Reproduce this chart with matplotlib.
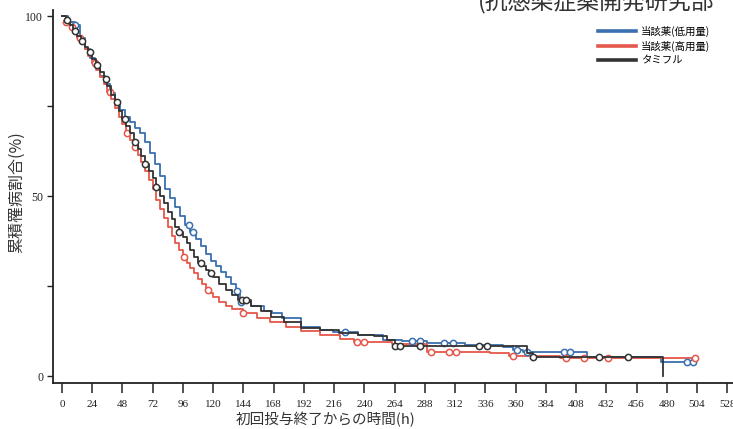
import numpy as np
import matplotlib
matplotlib.use("Agg")
import matplotlib.pyplot as plt

plt.rcParams['font.family'] = ['Noto Sans CJK JP', 'DejaVu Sans']

# ---- data ----
labels = ["当該薬(低用量)", "当該薬(高用量)", "タミフル"]
colors = ["#3a6fb0", "#e5574a", "#333333"]

blue_t = [0, 5, 10, 14, 18, 22, 26, 30, 34, 38, 42, 46, 50, 54, 58, 62, 66, 70, 74, 78,
          82, 86, 90, 94, 98, 102, 106, 110, 114, 118, 122, 126, 130, 134, 138, 141, 150, 160, 167, 175,
          190, 205, 215, 235, 255, 270, 290, 320, 350, 358, 366, 417, 475, 503]
blue_p = [100, 98.5, 97.5, 94, 91, 88.5, 86, 83.5, 81, 78.5, 76, 74, 72, 70.5, 69, 67.5, 65, 62, 59, 55.5,
          52, 49.5, 47, 44.5, 42, 40, 38, 36, 34, 32, 30.5, 29, 27.5, 25.5, 23.5, 20.5, 19.5, 18, 17.5, 16,
          13.5, 12.8, 12.2, 11.5, 10, 9.6, 9.2, 8.6, 8.1, 7.2, 6.7, 5.3, 3.8, 3.8]
blue_cens = [10, 101, 104, 139, 142, 225, 278, 284, 303, 310, 361, 369, 398, 403, 496, 501]

red_t = [0, 3, 6, 9, 12, 15, 18, 21, 24, 27, 30, 33, 36, 39, 42, 45, 48, 51, 54, 57,
         60, 63, 66, 69, 72, 75, 78, 81, 84, 87, 90, 93, 96, 99, 102, 105, 108, 111, 114, 117,
         120, 125, 130, 135, 144, 155, 165, 178, 190, 205, 221, 232, 262, 290, 340, 355, 395, 503]
red_p = [100, 98.5, 97, 95.5, 94, 92.5, 91, 89, 87, 85, 83, 81, 79, 77, 74.5, 72, 70, 67.5, 65.5, 63.5,
         61.5, 59.5, 57, 54.5, 52, 49, 46.5, 44, 41.5, 39, 37, 35, 33, 31.5, 30, 28.5, 27, 25.5, 24, 23,
         22, 20.5, 19.5, 18.5, 17.5, 16, 15, 13.5, 12.5, 11.5, 10.3, 9.5, 9.0, 6.8, 6.4, 5.6, 4.9, 4.9]
red_cens = [3, 8, 14, 26, 38, 52, 58, 97, 116, 144, 234, 240, 293, 307, 313, 358, 400, 414, 433, 502]

black_t = [0, 3, 6, 9, 12, 15, 18, 21, 24, 27, 30, 33, 36, 39, 42, 45, 48, 51, 54, 57,
           60, 63, 66, 69, 72, 75, 78, 81, 84, 87, 90, 93, 96, 99, 102, 105, 108, 111, 114, 117,
           120, 125, 130, 135, 140, 150, 158, 166, 176, 190, 205, 220, 235, 248, 258, 264, 369, 374, 477]
black_p = [100, 99, 97.5, 96, 94.5, 93, 91.5, 90, 88, 86.5, 84.5, 82.5, 80.5, 78, 76, 73.5, 71.5, 69.5, 67.5, 65,
           63, 61, 59, 57, 55, 52.5, 50, 48, 45.5, 43.5, 41.5, 40, 38.5, 37, 35, 33, 31.5, 30.5, 29.5, 28.5,
           27.5, 25.5, 24, 22.5, 21, 19.5, 18, 16.5, 15, 13.3, 12.8, 12, 11.5, 11, 10, 8.4, 6.5, 5.3, 0]
black_cens = [4, 10, 16, 22, 28, 35, 44, 50, 58, 66, 75, 93, 110, 118, 143, 146, 264, 268, 284,
              331, 337, 374, 426, 449]

x_ticks = list(range(0, 529, 24))
y_ticks = [0, 25, 50, 75, 100]
y_ticklabels = ["0", "", "50", "", "100"]

series = [(blue_t, blue_p, blue_cens), (red_t, red_p, red_cens), (black_t, black_p, black_cens)]

# ---- figure ----
fig = plt.figure(figsize=(7.33, 4.29), dpi=100)
ax = fig.add_axes([53 / 733, 46 / 429, 680 / 733, 373 / 429])

order = [1, 0, 2]
for i in order:
    t, p, cens = series[i]
    t = np.asarray(t, float)
    p = np.asarray(p, float)
    ax.step(t, p, where='post', color=colors[i], lw=1.3, zorder=2 + i)
    c = np.asarray(cens, float)
    idx = np.searchsorted(t, c, side='right') - 1
    ax.plot(c, p[idx], 'o', ms=4.5, mfc='white', mec=colors[i], mew=1.1,
            zorder=3 + i)

# legend
handles = [plt.Line2D([], [], color=colors[i], lw=2.6) for i in range(3)]
fig.legend(handles, labels, loc='upper left', bbox_to_anchor=(598 / 733, 1 - 26 / 429),
           frameon=False, fontsize=7.5, handlelength=3.6, handletextpad=0.5,
           labelspacing=0.35, borderpad=0, borderaxespad=0)

ax.set_xlim(-7.1, 532.5)
ax.set_ylim(-1.94, 101.7)
ax.set_xticks(x_ticks)
ax.set_xticklabels([str(v) for v in x_ticks], family='Liberation Serif', fontsize=8)
ax.set_yticks(y_ticks)
ax.set_yticklabels(y_ticklabels, family='Liberation Serif', fontsize=8.5)
ax.tick_params(axis='x', direction='out', length=7, width=1.1, pad=5, colors='#222222')
ax.tick_params(axis='y', direction='out', length=4, width=1.0, pad=3, colors='#222222')

for s in ['top', 'right']:
    ax.spines[s].set_visible(False)
for s in ['left', 'bottom']:
    ax.spines[s].set_linewidth(1.3)
    ax.spines[s].set_color('#222222')

ax.set_xlabel("初回投与終了からの時間(h)", fontsize=10.5, color='#333333')
ax.xaxis.set_label_coords((325 - 53) / 680, -29 / 373)
ax.set_ylabel("累積罹病割合(%)", fontsize=11.5, color='#333333')
ax.yaxis.set_label_coords(-28 / 680, (383 - 192) / 373)

fig.text(478 / 733, 1 - 2 / 429, "(抗感染症薬開発研究部", fontsize=16.5, va='center',
         ha='left', color='#333333')

fig.savefig("out.png", dpi=100)
